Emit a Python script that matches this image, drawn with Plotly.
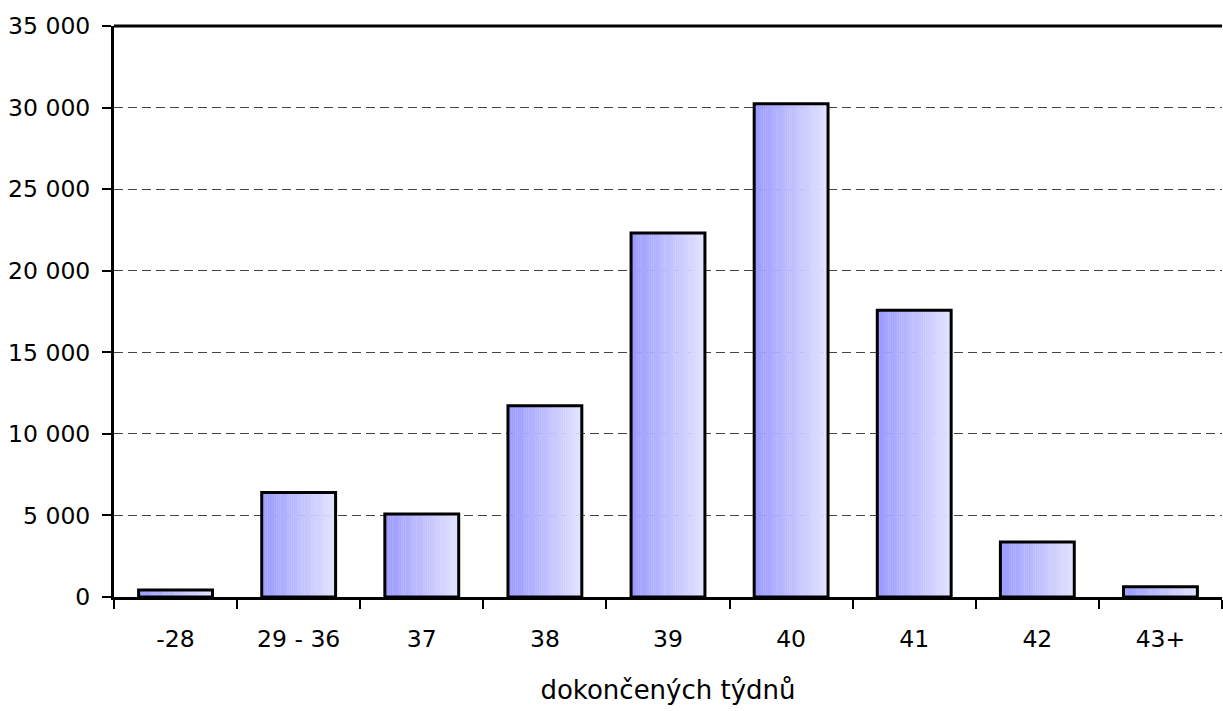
import plotly.graph_objects as go

categories = ["-28", "29 - 36", "37", "38", "39", "40", "41", "42", "43+"]
births = [430, 6400, 5080, 11720, 22310, 30230, 17580, 3370, 630]
y_ticks = [0, 5000, 10000, 15000, 20000, 25000, 30000, 35000]
y_tick_labels = ["0", "5 000", "10 000", "15 000", "20 000", "25 000", "30 000", "35 000"]
x_title = "dokončených týdnů"

BAR_W = 0.6
N = 40
c0 = (153, 153, 255)
c1 = (226, 226, 255)

fig = go.Figure()
for i in range(N):
    t = i / (N - 1)
    col = tuple(round(c0[k] + (c1[k] - c0[k]) * t) for k in range(3))
    fig.add_trace(go.Bar(
        x=categories, y=births,
        width=BAR_W / N + 0.002, offset=-BAR_W / 2 + i * BAR_W / N,
        marker=dict(color="rgb(%d,%d,%d)" % col, line=dict(width=0)),
        showlegend=False, hoverinfo="skip",
    ))
fig.add_trace(go.Bar(
    x=categories, y=births, width=BAR_W, offset=-BAR_W / 2,
    marker=dict(color="rgba(0,0,0,0)", line=dict(color="black", width=3)),
    showlegend=False,
))

fig.add_shape(type="line", xref="paper", yref="paper", x0=0, x1=1, y0=1, y1=1,
              line=dict(color="black", width=3))

fig.update_layout(
    width=1223, height=711,
    margin=dict(l=114, r=1, t=26, b=114),
    barmode="overlay",
    plot_bgcolor="white", paper_bgcolor="white",
    font=dict(family="DejaVu Sans, Liberation Sans, Arial, sans-serif", size=22, color="black"),
    xaxis=dict(
        type="category", range=[-0.5, 8.5],
        showline=True, linecolor="black", linewidth=3,
        ticks="outside", ticklen=9, tickwidth=2, tickcolor="black",
        tickson="boundaries", showgrid=False, ticklabelstandoff=19,
        tickfont=dict(size=23.5),
        title=dict(text=x_title, standoff=29),
    ),
    yaxis=dict(
        range=[0, 35000], tickvals=y_ticks, ticktext=y_tick_labels,
        showline=True, linecolor="black", linewidth=3,
        ticks="outside", ticklen=9, tickwidth=2, tickcolor="black",
        ticklabelstandoff=7, tickfont=dict(size=23.5),
        showgrid=True, gridcolor="#444", gridwidth=1, griddash="9px,5px",
        zeroline=False,
    ),
)

fig.write_html("out.html", config={"displayModeBar": False},
               post_script="document.body.style.margin='0';")
